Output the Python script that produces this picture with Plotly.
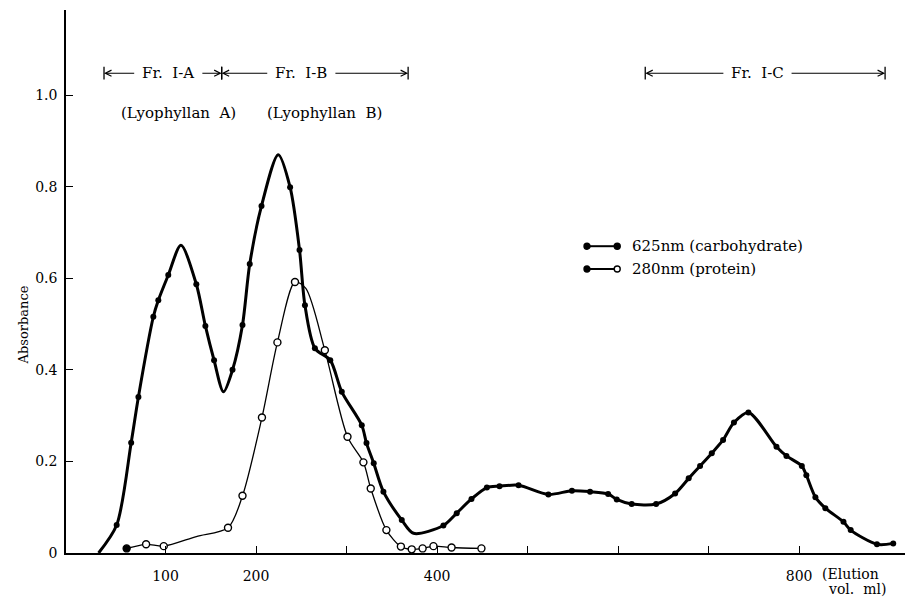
import plotly.graph_objects as go

# 625 nm readings (carbohydrate): elution volume (ml) and absorbance
carb_ml = [46, 62, 70, 86.5, 92, 103, 134, 144, 153.6, 174, 185, 193, 206,
           237.6, 248, 254, 265, 282, 294.7, 316.8, 322, 330, 340.7, 361,
           407, 421.7, 438, 455, 469, 490, 523, 549, 569, 589, 598.5, 615,
           642, 663, 678, 690.6, 703.5, 716, 728, 744, 775, 786, 803, 808,
           818, 829, 849, 857, 886, 904]
carb_abs = [0.061, 0.241, 0.341, 0.516, 0.552, 0.607, 0.587, 0.496, 0.421,
            0.400, 0.498, 0.631, 0.758, 0.799, 0.662, 0.541, 0.447, 0.421,
            0.352, 0.279, 0.240, 0.196, 0.134, 0.072, 0.060, 0.087, 0.118,
            0.143, 0.146, 0.148, 0.128, 0.136, 0.134, 0.129, 0.117, 0.107,
            0.107, 0.130, 0.163, 0.190, 0.218, 0.247, 0.285, 0.307, 0.232,
            0.212, 0.190, 0.170, 0.122, 0.098, 0.068, 0.050, 0.019, 0.021]
# turning points of the drawn carbohydrate curve between readings
carb_turn_ml = [26, 117, 164, 224.5, 374]
carb_turn_abs = [0.0, 0.672, 0.352, 0.870, 0.043]

# 280 nm readings (protein)
prot_ml = [57, 78.5, 98, 169, 185, 206.5, 223.6, 243, 276, 301, 318.6,
           326.7, 344, 360, 372, 384, 396, 416, 449]
prot_abs = [0.010, 0.019, 0.015, 0.055, 0.125, 0.296, 0.460, 0.592, 0.443,
            0.254, 0.198, 0.141, 0.050, 0.014, 0.008, 0.010, 0.015, 0.012,
            0.010]
prot_turn_ml = [134, 255]
prot_turn_abs = [0.036, 0.578]

# pooled fractions (elution volume limits, ml)
frac_names = ["Fr.\u00a0 I-A", "Fr.\u00a0 I-B", "Fr.\u00a0 I-C"]
frac_start = [32, 162, 630]
frac_end = [162, 368, 895]
frac_label_ml = [103, 250, 754]
frac_level = 1.048
frac_products = ["(Lyophyllan\u00a0 A)", "(Lyophyllan\u00a0 B)"]
product_ml = [114, 276]
product_level = 0.961

x_tick_vals = [100, 200, 300, 400, 500, 600, 700, 800]
x_tick_text = ["100", "200", "", "400", "", "", "", "800"]
y_tick_vals = [0, 0.2, 0.4, 0.6, 0.8, 1.0]
y_tick_text = ["0", "0.2", "0.4", "0.6", "0.8", "1.0"]

SERIF = "DejaVu Serif"


def merged(xs, ys, xt, yt):
    pts = sorted(zip(list(xs) + list(xt), list(ys) + list(yt)))
    return [p[0] for p in pts], [p[1] for p in pts]


fig = go.Figure()

cx, cy = merged(carb_ml, carb_abs, carb_turn_ml, carb_turn_abs)
fig.add_trace(go.Scatter(x=cx, y=cy, mode="lines",
                         line=dict(color="black", width=3, shape="spline", smoothing=0.8),
                         hoverinfo="skip", showlegend=False))
fig.add_trace(go.Scatter(x=carb_ml, y=carb_abs, mode="markers",
                         marker=dict(color="black", size=6),
                         name="625nm (carbohydrate)", showlegend=False))

px_, py_ = merged(prot_ml, prot_abs, prot_turn_ml, prot_turn_abs)
fig.add_trace(go.Scatter(x=px_, y=py_, mode="lines",
                         line=dict(color="black", width=1.3, shape="spline", smoothing=0.8),
                         hoverinfo="skip", showlegend=False))
prot_fill = ["black"] + ["white"] * (len(prot_ml) - 1)
fig.add_trace(go.Scatter(x=prot_ml, y=prot_abs, mode="markers",
                         marker=dict(color=prot_fill, size=7,
                                     line=dict(color="black", width=1.4)),
                         name="280nm (protein)", showlegend=False))

annotations = []
shapes = []

# fraction brackets with arrows
half_gap = 36
for name, a, b, c in zip(frac_names, frac_start, frac_end, frac_label_ml):
    annotations.append(dict(x=c, y=frac_level, xref="x", yref="y", text=name,
                            showarrow=False, font=dict(family=SERIF, size=15, color="black")))
    for head, tail in ((a, c - half_gap), (b, c + half_gap)):
        annotations.append(dict(x=head, y=frac_level, ax=tail, ay=frac_level,
                                xref="x", yref="y", axref="x", ayref="y", text="",
                                showarrow=True, arrowhead=5, arrowsize=1.1,
                                arrowwidth=1.1, arrowcolor="black",
                                standoff=0, startstandoff=0))
    for edge in (a, b):
        shapes.append(dict(type="line", xref="x", yref="y", x0=edge, x1=edge,
                           y0=frac_level - 0.014, y1=frac_level + 0.014,
                           line=dict(color="black", width=1.3)))

for label, pos in zip(frac_products, product_ml):
    annotations.append(dict(x=pos, y=product_level, xref="x", yref="y", text=label,
                            showarrow=False, font=dict(family=SERIF, size=15, color="black")))

# legend drawn by hand
legend_rows = [("625nm (carbohydrate)", "black"), ("280nm (protein)", "white")]
legend_y = [0.565, 0.523]
lx0, lx1, ltext = 0.621, 0.657, 0.672
for (label, end_fill), ly in zip(legend_rows, legend_y):
    shapes.append(dict(type="line", xref="paper", yref="paper", x0=lx0, x1=lx1,
                       y0=ly, y1=ly, line=dict(color="black", width=2)))
    for xx, fill in ((lx0, "black"), (lx1, end_fill)):
        shapes.append(dict(type="circle", xref="paper", yref="paper",
                           xsizemode="pixel", ysizemode="pixel",
                           xanchor=xx, yanchor=ly, x0=-3, x1=3, y0=-3, y1=3,
                           fillcolor=fill, line=dict(color="black", width=1.4)))
    annotations.append(dict(x=ltext, y=ly, xref="paper", yref="paper", text=label,
                            xanchor="left", yanchor="middle", showarrow=False,
                            font=dict(family=SERIF, size=15, color="black")))

# axis titles
annotations.append(dict(x=-0.062, y=0.42, xref="paper", yref="paper", text="Absorbance",
                        textangle=-90, showarrow=False,
                        font=dict(family=SERIF, size=13, color="black")))
annotations.append(dict(x=0.899, y=-0.039, xref="paper", yref="paper",
                        text="(Elution", xanchor="left", yanchor="middle",
                        showarrow=False, font=dict(family=SERIF, size=14, color="black")))
annotations.append(dict(x=0.98, y=-0.067, xref="paper", yref="paper",
                        text="vol.\u00a0 ml)", xanchor="right", yanchor="middle",
                        showarrow=False, font=dict(family=SERIF, size=14, color="black")))

fig.update_layout(
    width=905, height=599,
    margin=dict(l=66, r=0, t=10, b=46),
    paper_bgcolor="white", plot_bgcolor="white",
    showlegend=False,
    annotations=annotations, shapes=shapes,
    xaxis=dict(range=[-10, 917], showline=True, linecolor="black", linewidth=1.5,
               ticks="inside", ticklen=7, tickwidth=1.3, tickcolor="black",
               tickvals=x_tick_vals, ticktext=x_tick_text,
               showgrid=False, zeroline=False, ticklabelstandoff=9,
               tickfont=dict(family=SERIF, size=14, color="black")),
    yaxis=dict(range=[0, 1.186], showline=True, linecolor="black", linewidth=1.5,
               ticks="inside", ticklen=7, tickwidth=1.3, tickcolor="black",
               tickvals=y_tick_vals, ticktext=y_tick_text,
               showgrid=False, zeroline=False, ticklabelstandoff=4,
               tickfont=dict(family=SERIF, size=14, color="black")),
)

fig.write_html("out.html")
